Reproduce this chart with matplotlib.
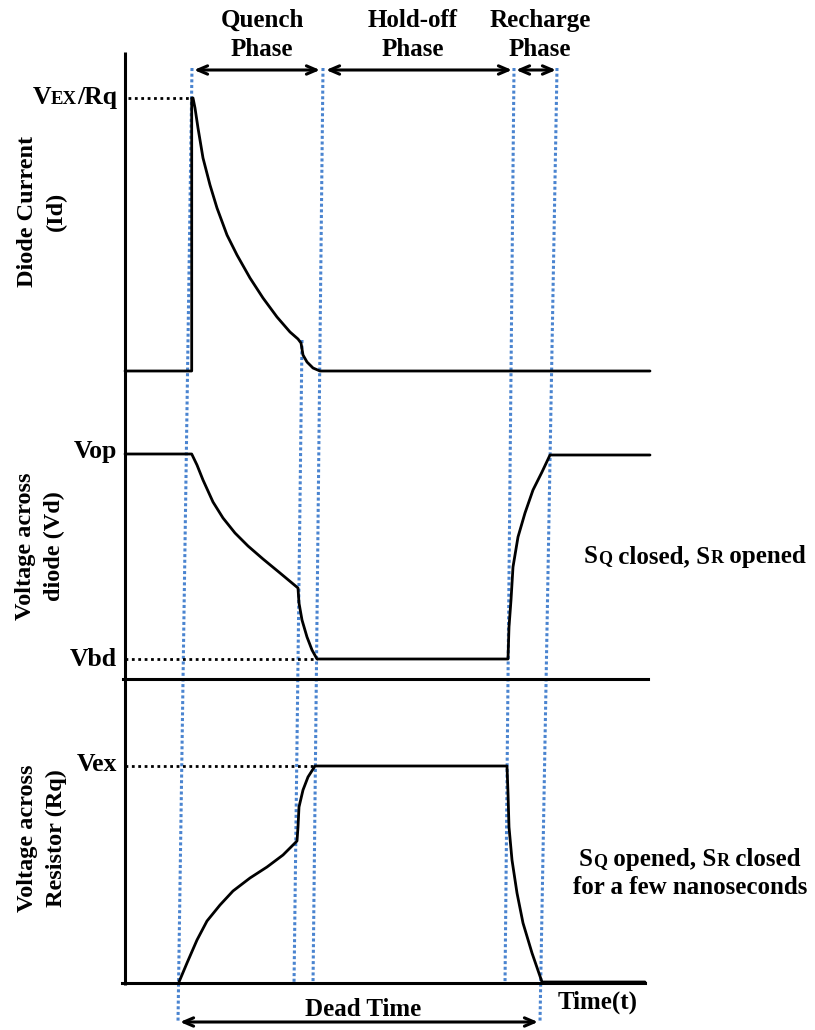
import matplotlib.pyplot as plt

# Schematic SPAD quench/recharge timing diagram, drawn in pixel units (y down)

# signal traces (x, y)
id_x = [125, 191.7, 191.7, 193, 195, 198, 203, 210, 217, 227, 237, 250, 263, 277, 290,
        298, 301, 303, 307, 313, 320, 650]
id_y = [371, 371, 98, 98, 108, 128, 158, 185, 208, 235, 255, 278, 298, 317, 332,
        339, 343, 355, 362, 368, 371, 371]

vd_x = [125, 191.7, 197, 203, 213, 223, 235, 248, 263, 280, 298, 299, 302, 307, 312, 317,
        508, 509, 511, 513, 518, 525, 533, 542, 550, 650]
vd_y = [454, 454, 465, 480, 502, 518, 533, 546, 559, 573, 588, 603, 620, 637, 650, 659,
        659, 627, 600, 567, 537, 513, 490, 472, 455, 455]

vr_x = [179, 187, 197, 207, 220, 233, 250, 267, 283, 297, 298, 299, 303, 308, 315,
        507, 508, 509, 512, 517, 523, 532, 542, 645]
vr_y = [982, 963, 940, 921, 905, 891, 878, 867, 855, 841, 827, 807, 790, 777, 766,
        766, 793, 827, 860, 893, 923, 953, 982, 982]

# axes of the three panels
axis_x = [125, 125]
axis_y = [52, 985]
base_y = [679, 983]
base_x0 = [123, 122]
base_x1 = [648, 645]

# slanted blue guide lines: (x_top, y_top, x_bottom, y_bottom)
guides = [(192, 68, 178, 1022), (302, 340, 294, 985), (323, 68, 313, 985),
          (514, 68, 505, 985), (557, 68, 540, 1022)]

# level markers: (y, x_start, x_end)
levels = [(98, 128, 190), (659, 125, 317), (766, 125, 313)]

# phase arrows: (x0, x1, y)
arrows = [(194, 320, 70), (326, 512, 70), (516, 556, 70), (180, 538, 1022)]
phase_names = ["Quench\nPhase", "Hold-off\nPhase", "Recharge\nPhase"]
phase_cx = [262, 413, 540]

FONT = "Liberation Serif"
BLUE = "#4a84d0"
BIG, SMALL = 18, 13

fig = plt.figure(figsize=(8.15, 10.3), dpi=100)
ax = fig.add_axes([0, 0, 1, 1])
ax.set_xlim(0, 815)
ax.set_ylim(1030, 0)
ax.axis("off")

# guides
for xt, yt, xb, yb in guides:
    ax.plot([xt, xb], [yt, yb], color=BLUE, lw=2.2, linestyle=(0, (1, 0.85)))
for y, xa, xb in levels:
    ax.plot([xa, xb], [y, y], color="black", lw=2.0, linestyle=(0, (1, 1.3)))

# axes and baselines
ax.plot(axis_x, axis_y, color="black", lw=2.2, solid_capstyle="butt")
for y, xa, xb in zip(base_y, base_x0, base_x1):
    ax.plot([xa, xb], [y, y], color="black", lw=2.2)

# traces
for xs, ys in [(id_x, id_y), (vd_x, vd_y), (vr_x, vr_y)]:
    ax.plot(xs, ys, color="black", lw=2.0, solid_joinstyle="round",
            solid_capstyle="round")

for x0, x1, y in arrows:
    ax.annotate("", xy=(x1, y), xytext=(x0, y),
                arrowprops=dict(arrowstyle="<->,head_length=0.7,head_width=0.3",
                                color="black", lw=2.2, shrinkA=0, shrinkB=0))

tkw = dict(family=FONT, weight="bold", color="black")
for name, cx in zip(phase_names, phase_cx):
    ax.text(cx, 35, name, ha="center", va="center", fontsize=BIG,
            linespacing=1.32, **tkw)

ax.text(363, 1009, "Dead Time", ha="center", va="center", fontsize=BIG, **tkw)
ax.text(558, 1002, "Time(t)", ha="left", va="center", fontsize=BIG, **tkw)

ylabels = [("Diode Current\n(Id)", 42, 211), ("Voltage across\ndiode (Vd)", 40, 546),
           ("Voltage across\nResistor (Rq)", 42, 838)]
for s, x, y in ylabels:
    ax.text(x, y, s, rotation=90, ha="center", va="center", fontsize=17.5,
            linespacing=1.45, multialignment="center", **tkw)

renderer = fig.canvas.get_renderer()


def run_width(pieces):
    w = 0
    for s, size in pieces:
        t = ax.text(0, 0, s, fontsize=size, **tkw)
        w += t.get_window_extent(renderer).width
        t.remove()
    return w


def run(pieces, x, y, ha="left"):
    """Run of text pieces of mixed size on one baseline (small caps)."""
    if ha == "right":
        x -= run_width(pieces)
    elif ha == "center":
        x -= run_width(pieces) / 2
    for s, size in pieces:
        t = ax.text(x, y, s, ha="left", va="baseline", fontsize=size, **tkw)
        x += t.get_window_extent(renderer).width


run([("V", 18.5), ("EX", 13.5), ("/Rq", 18.5)], 117, 104, ha="right")
run([("Vop", 18.5)], 117, 458, ha="right")
run([("Vbd", 18.5)], 117, 666, ha="right")
run([("Vex", 18.5)], 117, 771, ha="right")

run([("S", BIG), ("Q", SMALL), (" closed, S", BIG), ("R", SMALL), (" opened", BIG)],
    695, 563, ha="center")
run([("S", BIG), ("Q", SMALL), (" opened, S", BIG), ("R", SMALL), (" closed", BIG)],
    690, 866, ha="center")
run([("for a few nanoseconds", BIG)], 690, 894, ha="center")

fig.savefig("out.png", dpi=100)
